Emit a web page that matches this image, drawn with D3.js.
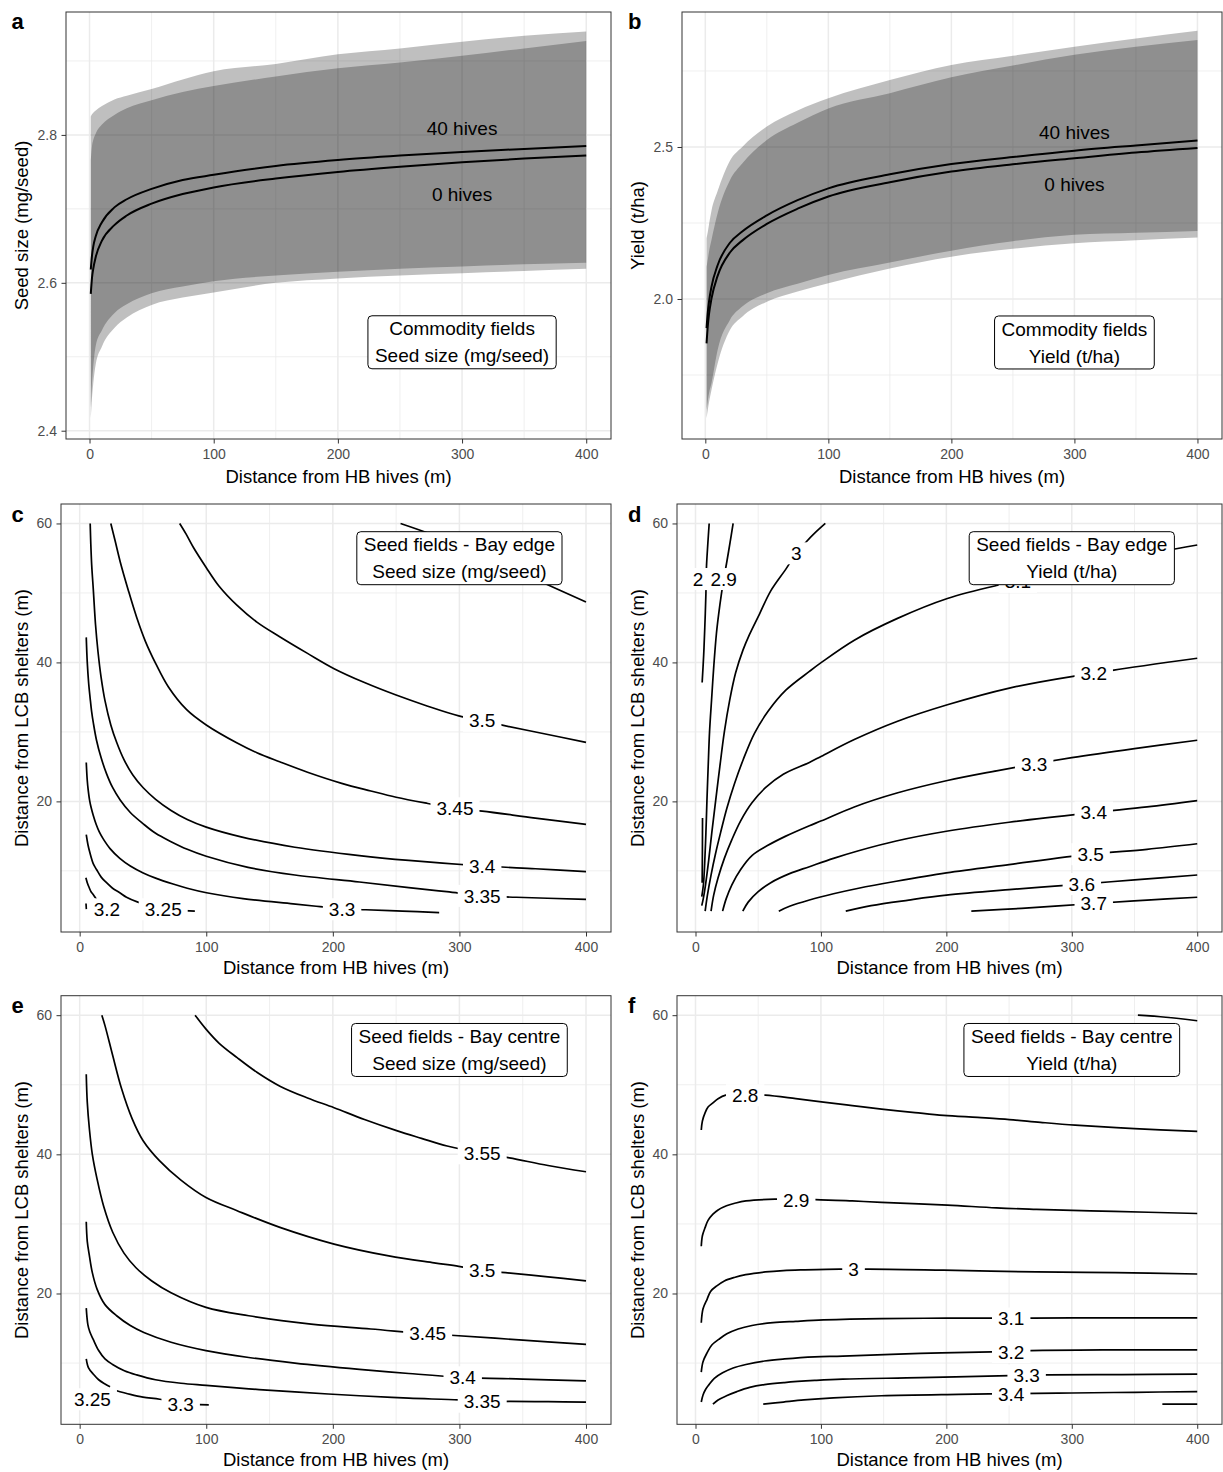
<!DOCTYPE html>
<html><head><meta charset="utf-8">
<script src="https://cdn.jsdelivr.net/npm/d3@7"></script>
<style>body{margin:0;background:#fff}</style>
</head><body><script>
// ---------------- DATA ----------------
const hbTicks = [0,100,200,300,400];
const hbMinor = [50,150,250,350];
const hbDist = [1,2,3,5,10,20,30,50,75,100,150,200,250,300,350,400];

// panel a: commodity seed size
const seedMean40 = [2.618,2.637,2.649,2.663,2.682,2.702,2.713,2.727,2.739,2.746,2.758,2.766,2.772,2.777,2.781,2.785];
const seedMean0  = [2.585,2.607,2.619,2.635,2.657,2.678,2.691,2.707,2.720,2.729,2.741,2.750,2.757,2.763,2.768,2.772];
const seedLo40 = [2.431,2.465,2.487,2.515,2.536,2.559,2.571,2.586,2.595,2.602,2.610,2.615,2.619,2.622,2.625,2.627];
const seedHi40 = [2.825,2.828,2.830,2.833,2.839,2.848,2.853,2.862,2.875,2.886,2.896,2.909,2.917,2.926,2.934,2.940];
const seedLo0  = [2.417,2.445,2.464,2.490,2.514,2.539,2.553,2.570,2.580,2.587,2.600,2.606,2.610,2.613,2.616,2.619];
const seedHi0  = [2.766,2.785,2.793,2.802,2.814,2.827,2.836,2.847,2.858,2.866,2.879,2.890,2.898,2.907,2.917,2.927];
const seedTicks = [2.4,2.6,2.8];
const seedMinor = [2.5,2.7,2.9];

// panel b: commodity yield
const yieldMean40 = [1.904,1.956,1.991,2.040,2.111,2.185,2.222,2.275,2.325,2.364,2.410,2.444,2.467,2.488,2.505,2.521];
const yieldMean0  = [1.854,1.911,1.950,2.001,2.076,2.153,2.192,2.247,2.297,2.337,2.384,2.419,2.443,2.463,2.482,2.497];
const yieldHi40 = [2.20,2.22,2.245,2.29,2.355,2.455,2.50,2.567,2.62,2.66,2.72,2.77,2.80,2.83,2.857,2.882];
const yieldHi0  = [2.106,2.13,2.155,2.194,2.282,2.391,2.446,2.523,2.58,2.627,2.677,2.729,2.768,2.803,2.83,2.852];
const yieldLo40 = [1.635,1.665,1.69,1.723,1.832,1.931,1.975,2.019,2.05,2.079,2.12,2.159,2.19,2.211,2.218,2.224];
const yieldLo0  = [1.608,1.635,1.66,1.701,1.788,1.898,1.942,1.991,2.025,2.052,2.10,2.139,2.165,2.183,2.193,2.202];
const yieldTicks = [2.0,2.5];
const yieldMinor = [1.75,2.25,2.75];

const lcbTicks = [20,40,60];
const lcbMinor = [10,30,50];

// panel c: seed fields, bay edge, seed size  [level, [[x,y],...]]
const edgeSeedLines = [
 [3.55,[[253.5,60],[280,58.3],[320,55.4],[361,51.9],[400,48.7]]],
 [3.5,[[79,60],[84,58.5],[90,56.5],[99.8,53.7],[110,51],[124.4,48.2],[140,45.8],[158,43.7],[180,41.3],[201,39.1],[225,37.1],[250,35.3],[275,33.7],[299.5,32.3],[318,31.6],[333,31.0],[365,29.8],[400,28.5]]],
 [3.45,[[24.6,60],[28,57.5],[32,54.5],[38.4,50.4],[45,46.5],[52,43],[59.9,39.9],[70,36.5],[84.5,33.2],[100,31],[124.4,28.4],[140,27],[158,25.7],[180,24.2],[207,22.6],[230,21.5],[250,20.6],[275,19.7],[296.5,19.0],[318,18.6],[360,17.6],[400,16.7]]],
 [3.4,[[8.3,60],[8.8,57],[9.5,54],[10.8,50.4],[12.5,45.5],[14.5,41.5],[16.9,37.9],[20,34.5],[24.6,31],[29.2,28.5],[35,26],[42,23.8],[50,22],[60,20.3],[72.2,18.7],[85,17.4],[100,16.3],[127.5,14.9],[170,13.4],[221,12.2],[260,11.5],[318,10.7],[360,10.3],[400,9.9]]],
 [3.35,[[5.2,43.6],[6,40],[7.1,37],[8.3,34.8],[9.4,33],[10.8,31.3],[13.3,28.8],[16.9,26.3],[21.2,24.0],[26,22],[32,20.2],[40,18.4],[50,16.8],[60,15.4],[72.2,14.2],[85,13.1],[100,12.1],[133,10.5],[170,9.4],[221,8.4],[260,7.6],[290,7.0],[318,6.4],[345,6.2],[400,5.9]]],
 [3.3,[[5.2,25.6],[6,23],[6.7,21.7],[8,20],[9.2,19.0],[10.7,18.0],[13,16.7],[15.5,15.6],[18.6,14.6],[24,13.2],[31.7,11.8],[40,10.7],[50.2,9.7],[60,8.95],[73.8,8.1],[85,7.5],[100.2,6.85],[129,6.0],[168.6,5.25],[190,4.85],[207.3,4.55],[226,4.4],[255,4.2],[284,4.0]]],
 [3.25,[[5.2,15.2],[6.5,13.8],[8.1,12.6],[10.8,11.0],[13.3,10.2],[17,9.1],[21.2,8.3],[26,7.5],[31.7,6.85],[37,6.2],[46,5.5],[56,5.0],[66,4.5],[78,4.3],[91,4.2]]],
 [3.2,[[4.9,9.0],[6,8.3],[7.5,7.6],[9,7.0],[10.7,6.6],[14,5.7],[18,5.0],[21.5,4.5],[26,4.1]]],
 [3.15,[[5.0,5.3],[5.3,4.5]]]
];
const edgeSeedLabels = [[3.2,21.5,4.47],[3.25,66,4.47],[3.3,207.3,4.47],[3.35,318,6.4],[3.4,318,10.7],[3.45,296.5,19.0],[3.5,318,31.6]];

// panel d: seed fields, bay edge, yield
const edgeYieldLines = [
 [2.8,[[10.9,60],[9.8,57],[8.8,54],[8.5,52],[8.3,49.9],[7.4,45],[6.5,41],[5.3,37.1]]],
 [2.8,[[5.6,17.6],[5.5,13],[5.3,8.3]]],
 [2.9,[[30,60],[27.5,57.2],[24.7,54.2],[22.5,52],[20.7,49.9],[18.5,47],[16.7,44.2],[14.6,39.5],[12.8,34.6],[11.2,30],[10.1,25],[9.1,20],[8.3,15.5],[7.3,11],[6.3,8],[5.0,6.3]]],
 [3.0,[[103.5,60],[95,58.6],[88,57.3],[80.3,55.7],[72.3,53.5],[60,50.3],[51.1,47],[43,44],[37.9,41.8],[32,38.5],[27.3,34.6],[23,30],[19.4,25],[16,20],[13,15.5],[10.5,11.5],[8,8],[6.2,6],[5,5]]],
 [3.1,[[7.7,4.2],[9.5,6.5],[12.5,9.5],[16,12.5],[20,15.5],[25,19],[31,22.5],[38,26],[47,29.8],[58,33],[72,36],[90.8,38.7],[100.4,40.0],[126.6,43.2],[160.6,46.3],[200.8,49.2],[241,51.1],[260,51.8],[300,53.5],[350,55.3],[400,56.9]]],
 [3.2,[[12.4,4.2],[14.5,6.5],[18,9],[23,11.8],[29,14.5],[36,17.2],[45,19.8],[56,22],[70,23.9],[90.8,25.6],[100.4,26.5],[126.6,28.9],[160.6,31.5],[200.8,33.9],[250.2,36.3],[301,38.0],[317.5,38.4],[333.6,38.9],[400,40.6]]],
 [3.3,[[21.6,4.2],[24.5,6],[29,8],[36,10.2],[45,12.2],[57,13.6],[72,15.0],[90.8,16.5],[100.4,17.2],[126.6,19.2],[160.6,21.2],[200.8,23.0],[240,24.4],[270,25.4],[300,26.3],[350,27.6],[400,28.8]]],
 [3.4,[[37.7,4.2],[42,5.5],[50,7.0],[60,8.3],[75,9.6],[90.8,10.6],[110,11.8],[130,12.9],[160,14.3],[200,15.7],[250,17.0],[317.5,18.4],[360,19.2],[400,20.1]]],
 [3.5,[[66.4,4.2],[75,4.9],[90.8,5.8],[110,6.7],[130,7.5],[160,8.5],[200,9.7],[250,10.9],[315,12.4],[360,13.1],[400,13.9]]],
 [3.6,[[119.8,4.2],[140,5.0],[170,5.8],[200,6.5],[250,7.3],[308,8.1],[350,8.7],[400,9.4]]],
 [3.7,[[219.9,4.2],[260,4.6],[317.5,5.3],[360,5.8],[400,6.2]]]
];
// [level, x, y, shown text (the 2.8 label is mostly hidden behind the 2.9 label in the source)]
const edgeYieldLabels = [[2.8,2.0,52.0,'2'],[2.9,22.5,52.0],[3,80.3,55.7],[3.1,257,51.6],[3.2,317.5,38.4],[3.3,270,25.4],[3.4,317.5,18.4],[3.5,315,12.4],[3.6,308,8.1],[3.7,317.5,5.3]];

// panel e: seed fields, bay centre, seed size
const centreSeedLines = [
 [3.55,[[91.2,60],[99.8,58],[110,56],[124.4,53.9],[140,51.8],[158.2,49.8],[180,48.1],[201,46.7],[225,45],[250.4,43.4],[270,42.3],[290.3,41.2],[318,40.15],[339.5,39.5],[370,38.4],[400,37.5]]],
 [3.5,[[17.5,60],[20,58.5],[26.1,54.2],[33,49.5],[41.5,45.1],[50,42],[63,39.1],[80,36.3],[99.8,33.8],[124.4,31.9],[158.2,29.5],[201,27.1],[244.2,25.4],[280,24.4],[299.5,23.9],[318,23.3],[336.4,23.0],[370,22.4],[400,21.8]]],
 [3.45,[[5.2,51.5],[6,47.5],[7.7,43.6],[10,40],[13.8,36.4],[19,32.5],[26.1,28.8],[35,25.8],[44.5,23.7],[57,21.8],[72.2,20.1],[99.8,18.0],[133.6,16.8],[182.8,15.6],[230,14.9],[274.9,14.2],[293.4,14.0],[350,13.3],[400,12.7]]],
 [3.4,[[5.2,30.3],[6,27.5],[7.7,25.4],[10,23],[13.8,20.6],[20,18.4],[29.2,16.8],[40,15.4],[50.7,14.4],[72.2,13.0],[99.8,11.8],[133.6,10.8],[170,10],[221,9.1],[260,8.5],[302.6,7.95],[350,7.7],[400,7.45]]],
 [3.35,[[5.2,17.9],[6.5,15.5],[8,14.5],[10.7,13.4],[15,11.8],[20,10.6],[26,9.8],[35.3,8.9],[45,8.3],[59.9,7.6],[80,7.1],[100,6.8],[133.6,6.3],[170,5.85],[221,5.3],[260,4.95],[299.5,4.7],[318,4.45],[339.5,4.5],[370,4.45],[400,4.4]]],
 [3.3,[[28,6.1],[40,5.5],[50,5.1],[63.3,4.8],[79.8,4.2],[90,4.05],[102,4.0]]],
 [3.25,[[5.2,10.6],[7,9.3],[10.8,8.4],[15,7.6],[20,7.0],[24,6.6]]]
];
const centreSeedLabels = [[3.25,10.1,4.8],[3.3,79.8,4.1],[3.35,318,4.45],[3.4,302.6,7.95],[3.45,274.9,14.2],[3.5,318,23.3],[3.55,318,40.15]];

// panel f: seed fields, bay centre, yield
const centreYieldLines = [
 [2.7,[[352.7,60],[375,59.7],[400,59.2]]],
 [2.8,[[4.6,43.5],[5.5,44.8],[7.7,46.0],[10,46.8],[13.9,47.4],[18,48],[24.1,48.5],[39.6,48.6],[55.6,48.5],[80,48.0],[102,47.5],[125,47],[148.3,46.5],[175,46],[197.7,45.6],[225,45.3],[250.2,45.0],[275,44.6],[302.7,44.2],[350,43.7],[400,43.3]]],
 [2.9,[[4.6,26.8],[5.5,28.3],[7.7,29.5],[10,30.5],[13.9,31.4],[18,32],[24.7,32.6],[32,33],[40.2,33.3],[63.3,33.55],[80.3,33.5],[95.8,33.5],[125,33.3],[148.3,33.1],[200.8,32.7],[240,32.3],[271.8,32.1],[333.6,31.8],[400,31.5]]],
 [3,[[4.6,15.8],[6,17.8],[9.3,19.2],[12,20.3],[17,21.1],[23,21.8],[30.9,22.3],[40,22.7],[55.6,23.1],[70,23.3],[86.5,23.4],[115.8,23.5],[126,23.45],[135.9,23.5],[197.7,23.35],[271.8,23.1],[335,23.0],[400,22.8]]],
 [3.1,[[4.6,8.7],[6,10.2],[9.3,11.5],[13,12.6],[18.5,13.4],[25,14.2],[34,14.9],[45,15.4],[61.8,15.8],[80,16.0],[102,16.2],[148.3,16.4],[200,16.45],[251.7,16.45],[300,16.5],[400,16.5]]],
 [3.2,[[4.6,4.4],[6,5.4],[8,6.2],[10.8,6.9],[15,7.8],[21.6,8.6],[30,9.3],[40.2,9.8],[55,10.3],[71,10.6],[95,10.9],[117.4,11.0],[179.2,11.4],[236.3,11.6],[267.2,11.8],[330,11.9],[400,11.9]]],
 [3.3,[[13.9,4.1],[18,4.7],[24.7,5.3],[33,5.9],[43.2,6.5],[55,6.9],[71,7.2],[95,7.5],[117.4,7.7],[179.2,7.9],[250.2,8.2],[281,8.3],[340,8.35],[400,8.4]]],
 [3.4,[[54,4.1],[70,4.4],[86.5,4.7],[110,5.0],[148.3,5.3],[210,5.5],[251.7,5.6],[300,5.7],[350,5.8],[400,5.9]]],
 [3.5,[[372.2,4.1],[400,4.1]]]
];
const centreYieldLabels = [[2.8,39.6,48.5],[2.9,80.3,33.4],[3,126,23.4],[3.1,251.7,16.4],[3.2,251.7,11.6],[3.3,264,8.2],[3.4,251.7,5.5]];

// ---------------- DRAWING ----------------
const FONT = '"Liberation Sans", Arial, Helvetica, sans-serif';
const svg = d3.select('body').append('svg').attr('width',1223).attr('height',1472)
  .style('font-family',FONT).style('background','#fff');
const defs = svg.append('defs');

function contourLabel(c, txt, px, py){
  const t = c.append('text').attr('x',px).attr('y',py).attr('dy','0.35em')
    .attr('text-anchor','middle').style('font-size','19px').attr('fill','#000').text(txt);
  const w = t.node().getComputedTextLength();
  c.insert('rect', () => t.node()).attr('x',px-w/2-6).attr('y',py-11)
    .attr('width',w+12).attr('height',22).attr('fill','#fff');
}
function infoBox(c, lines, px, py){
  const g2 = c.append('g');
  const ts = lines.map((s,i)=> g2.append('text').attr('x',px).attr('y',py+(i-0.5)*27).attr('dy','0.35em')
     .attr('text-anchor','middle').style('font-size','19px').attr('fill','#000').text(s));
  const w = d3.max(ts, t=>t.node().getComputedTextLength());
  g2.insert('rect',':first-child').attr('x',px-w/2-7).attr('y',py-26.5).attr('width',w+14).attr('height',53)
    .attr('rx',4).attr('fill','#fff').attr('stroke','#000').attr('stroke-width',1);
}

function drawPanel(p){
  const [l,t,r,b] = p.rect;
  const x = d3.scaleLinear().domain(p.xd).range([l,r]);
  const y = d3.scaleLinear().domain(p.yd).range([b,t]);
  const g = svg.append('g');
  g.append('rect').attr('x',l).attr('y',t).attr('width',r-l).attr('height',b-t).attr('fill','#fff');
  g.selectAll(null).data(hbMinor).join('line').attr('x1',d=>x(d)).attr('x2',d=>x(d)).attr('y1',t).attr('y2',b)
    .attr('stroke','#ebebeb').attr('stroke-width',0.8);
  g.selectAll(null).data(p.ym).join('line').attr('y1',d=>y(d)).attr('y2',d=>y(d)).attr('x1',l).attr('x2',r)
    .attr('stroke','#ebebeb').attr('stroke-width',0.8);
  g.selectAll(null).data(hbTicks).join('line').attr('x1',d=>x(d)).attr('x2',d=>x(d)).attr('y1',t).attr('y2',b)
    .attr('stroke','#ebebeb').attr('stroke-width',1.5);
  g.selectAll(null).data(p.yt).join('line').attr('y1',d=>y(d)).attr('y2',d=>y(d)).attr('x1',l).attr('x2',r)
    .attr('stroke','#ebebeb').attr('stroke-width',1.5);
  const cid = 'clip_'+p.id;
  defs.append('clipPath').attr('id',cid).append('rect').attr('x',l).attr('y',t).attr('width',r-l).attr('height',b-t);
  const c = g.append('g').attr('clip-path',`url(#${cid})`);
  p.draw(c,x,y);
  infoBox(c, p.box, x(300), y(p.boxY));
  g.append('rect').attr('x',l).attr('y',t).attr('width',r-l).attr('height',b-t)
    .attr('fill','none').attr('stroke','#333').attr('stroke-width',1);
  const ax = g.append('g').attr('transform',`translate(0,${b})`)
    .call(d3.axisBottom(x).tickValues(hbTicks).tickSize(4.5).tickPadding(5.5).tickFormat(d3.format('d')));
  const ay = g.append('g').attr('transform',`translate(${l},0)`)
    .call(d3.axisLeft(y).tickValues(p.yt).tickSize(4.5).tickPadding(4.5).tickFormat(p.yfmt));
  [ax,ay].forEach(a=>{
    a.select('.domain').remove();
    a.attr('font-family',FONT).attr('font-size',14);
    a.selectAll('line').attr('stroke','#333');
    a.selectAll('text').attr('fill','#4d4d4d');
  });
  g.append('text').attr('transform',`translate(${p.ytx},${(t+b)/2}) rotate(-90)`).attr('dy','0.35em')
    .attr('text-anchor','middle').style('font-size','18.5px').attr('fill','#000').text(p.ytitle);
  g.append('text').attr('x',(l+r)/2).attr('y',p.xty).attr('dy','0.35em')
    .attr('text-anchor','middle').style('font-size','18.5px').attr('fill','#000').text('Distance from HB hives (m)');
  g.append('text').attr('x',p.letterX).attr('y',p.letterY).style('font-size','22px').style('font-weight','bold')
    .attr('fill','#000').text(p.id);
}

function drawHives(mean40, mean0, lo40, hi40, lo0, hi0, y40, y0){
  return function(c,x,y){
    const area = (lo,hi)=> d3.area().x((d,i)=>x(hbDist[i])).y0((d,i)=>y(lo[i])).y1((d,i)=>y(hi[i])).curve(d3.curveMonotoneX)(hbDist);
    c.append('path').attr('d',area(lo40,hi40)).attr('fill','#000').attr('fill-opacity',0.25);
    c.append('path').attr('d',area(lo0,hi0)).attr('fill','#000').attr('fill-opacity',0.25);
    const line = v => d3.line().x((d,i)=>x(hbDist[i])).y((d,i)=>y(v[i])).curve(d3.curveMonotoneX)(hbDist);
    c.append('path').attr('d',line(mean40)).attr('fill','none').attr('stroke','#000').attr('stroke-width',2);
    c.append('path').attr('d',line(mean0)).attr('fill','none').attr('stroke','#000').attr('stroke-width',2);
    c.append('text').attr('x',x(300)).attr('y',y(y40)).attr('dy','0.35em').attr('text-anchor','middle')
      .style('font-size','19px').text('40 hives');
    c.append('text').attr('x',x(300)).attr('y',y(y0)).attr('dy','0.35em').attr('text-anchor','middle')
      .style('font-size','19px').text('0 hives');
  };
}
function drawContours(lines, labels){
  return function(c,x,y){
    const gen = d3.line().x(d=>x(d[0])).y(d=>y(d[1])).curve(d3.curveCatmullRom.alpha(0.5));
    lines.forEach(([lev,pts])=>{
      c.append('path').attr('d',gen(pts)).attr('fill','none').attr('stroke','#000').attr('stroke-width',1.7);
    });
    labels.forEach(([lev,lx,ly,shown])=> contourLabel(c, shown !== undefined ? shown : String(lev), x(lx), y(ly)));
  };
}

const xdA = [-18.95,419.95], xdC = [-14.75,419.75], ydC = [1.2,62.8];
const fmt1 = d3.format('.1f'), fmtD = d3.format('d');
const panels = [
 {id:'a', rect:[66,12,611,439], xd:xdA, yd:[2.3888,2.9662], yt:seedTicks, ym:seedMinor, yfmt:fmt1,
  ytitle:'Seed size (mg/seed)', ytx:22, xty:476.5, letterX:11.5, letterY:28.5,
  box:['Commodity fields','Seed size (mg/seed)'], boxY:2.5196,
  draw: drawHives(seedMean40, seedMean0, seedLo40, seedHi40, seedLo0, seedHi0, 2.809, 2.719)},
 {id:'b', rect:[682,12,1222,439], xd:xdA, yd:[1.5395,2.944], yt:yieldTicks, ym:yieldMinor, yfmt:fmt1,
  ytitle:'Yield (t/ha)', ytx:638, xty:476.5, letterX:628, letterY:28.5,
  box:['Commodity fields','Yield (t/ha)'], boxY:1.857,
  draw: drawHives(yieldMean40, yieldMean0, yieldLo40, yieldHi40, yieldLo0, yieldHi0, 2.547, 2.377)},
 {id:'c', rect:[61,504,611,932], xd:xdC, yd:ydC, yt:lcbTicks, ym:lcbMinor, yfmt:fmtD,
  ytitle:'Distance from LCB shelters (m)', ytx:22, xty:968, letterX:11.5, letterY:521.7,
  box:['Seed fields - Bay edge','Seed size (mg/seed)'], boxY:55.0,
  draw: drawContours(edgeSeedLines, edgeSeedLabels)},
 {id:'d', rect:[677,504,1222,932], xd:xdC, yd:ydC, yt:lcbTicks, ym:lcbMinor, yfmt:fmtD,
  ytitle:'Distance from LCB shelters (m)', ytx:638, xty:968, letterX:628, letterY:521.7,
  box:['Seed fields - Bay edge','Yield (t/ha)'], boxY:55.0,
  draw: drawContours(edgeYieldLines, edgeYieldLabels)},
 {id:'e', rect:[61,995.7,611,1424.3], xd:xdC, yd:ydC, yt:lcbTicks, ym:lcbMinor, yfmt:fmtD,
  ytitle:'Distance from LCB shelters (m)', ytx:22, xty:1460, letterX:11.5, letterY:1013.3,
  box:['Seed fields - Bay centre','Seed size (mg/seed)'], boxY:55.0,
  draw: drawContours(centreSeedLines, centreSeedLabels)},
 {id:'f', rect:[677,995.7,1222,1424.3], xd:xdC, yd:ydC, yt:lcbTicks, ym:lcbMinor, yfmt:fmtD,
  ytitle:'Distance from LCB shelters (m)', ytx:638, xty:1460, letterX:628, letterY:1013.3,
  box:['Seed fields - Bay centre','Yield (t/ha)'], boxY:55.0,
  draw: drawContours(centreYieldLines, centreYieldLabels)}
];
panels.forEach(drawPanel);
</script></body></html>
